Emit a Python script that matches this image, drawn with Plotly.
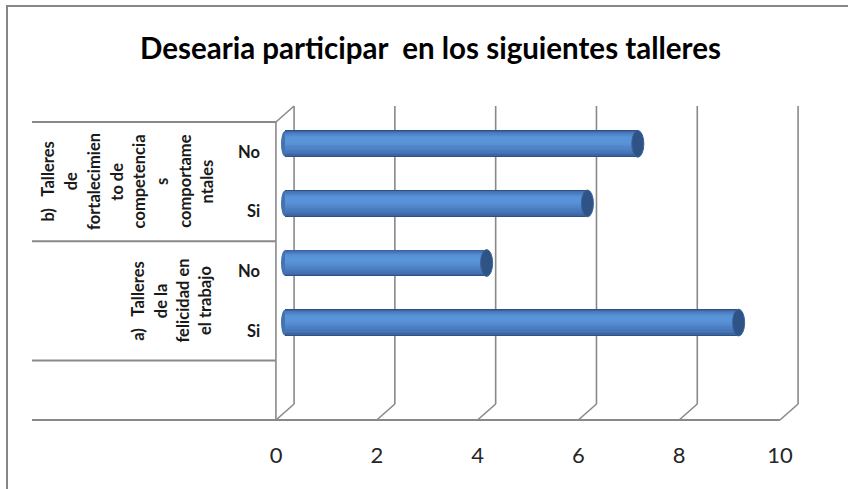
import plotly.graph_objects as go

# ---- data -------------------------------------------------------------
title_text = "Desearia participar\u00a0 en los siguientes talleres"

# category slots from bottom to top (slot 0 is left empty on the axis)
answer_labels = ["Si", "No", "Si", "No"]
answer_values = [9, 4, 6, 7]

# wrapped group labels (one list entry per rotated text line)
group_a_lines = ["a)\u00a0\u00a0\u00a0Talleres", "de la", "felicidad en", "el trabajo"]
group_b_lines = ["b)\u00a0\u00a0\u00a0Talleres", "de", "fortalecimien", "to de",
                 "competencia", "s", "comportame", "ntales"]

value_ticks = [0, 2, 4, 6, 8, 10]

# ---- geometry of the pseudo-3D frame -----------------------------------
W, H = 848, 489
PLOT_TOP, PLOT_BOTTOM = 60, 426
X_ZERO_PX, PX_PER_UNIT = 285.0, 50.4      # value axis at mid depth
Y_ZERO_PX, PX_PER_SLOT = 382.2, 59.6      # centre of slot 0
DX, DY = 0.18, 0.134                      # half depth offset (axis units)
N_SLOTS = 5
TABLE_LEFT_PX = 32

def px_to_x(px):
    return (px - X_ZERO_PX) / PX_PER_UNIT

def px_to_y(py):
    return (Y_ZERO_PX - py) / PX_PER_SLOT

def paper_x(px):
    return px / W

def paper_y(py):
    return (PLOT_BOTTOM - py) / (PLOT_BOTTOM - PLOT_TOP)

positions = list(range(1, len(answer_values) + 1))
slot_lo, slot_hi = -0.5, N_SLOTS - 0.5
grid_col = "#898989"
text_font = "Lato"

fig = go.Figure()

# cylinder bodies: stacked bands of decreasing width for the round shading
bands = [
    (0.45, 0.000, "#2f5283"),
    (0.42, 0.006, "#3b64a1"),
    (0.38, 0.012, "#4270b0"),
    (0.34, 0.020, "#4777b8"),
    (0.29, 0.030, "#4b7ec0"),
    (0.24, 0.040, "#4f85c8"),
    (0.19, 0.050, "#538bce"),
    (0.14, 0.058, "#5790d4"),
    (0.09, 0.064, "#5a94d8"),
]
for k, (w, shift, col) in enumerate(bands):
    fig.add_trace(go.Bar(
        y=positions, x=answer_values, orientation="h",
        width=w, offset=shift - w / 2,
        marker=dict(color=col, line=dict(width=0)),
        hoverinfo="skip" if k < len(bands) - 1 else "x",
        showlegend=False,
    ))

shapes = []
line_style = dict(color=grid_col, width=1.6)

# back wall gridlines and floor diagonals
for v in value_ticks:
    shapes.append(dict(type="line", xref="x", yref="y", layer="below",
                       x0=v + DX, x1=v + DX, y0=slot_lo + DY, y1=slot_hi + DY,
                       line=line_style))
    shapes.append(dict(type="line", xref="x", yref="y", layer="below",
                       x0=v - DX, x1=v + DX, y0=slot_lo - DY, y1=slot_lo + DY,
                       line=line_style))

# front floor edge, running under the category table
shapes.append(dict(type="line", xref="x", yref="y", layer="below",
                   x0=px_to_x(TABLE_LEFT_PX), x1=value_ticks[-1] - DX,
                   y0=slot_lo - DY, y1=slot_lo - DY, line=dict(color=grid_col, width=2)))
# side wall
shapes.append(dict(type="line", xref="x", yref="y", layer="below",
                   x0=-DX, x1=-DX, y0=slot_lo - DY, y1=slot_hi - DY, line=line_style))
shapes.append(dict(type="line", xref="x", yref="y", layer="below",
                   x0=-DX, x1=DX, y0=slot_hi - DY, y1=slot_hi + DY, line=line_style))
# category table separators
for b in [slot_hi, 2.5, 0.5]:
    shapes.append(dict(type="line", xref="x", yref="y", layer="below",
                       x0=px_to_x(TABLE_LEFT_PX), x1=-DX, y0=b - DY, y1=b - DY,
                       line=dict(color=grid_col, width=2)))

# rounded bar starts and dark end faces
for p, v in zip(positions, answer_values):
    shapes.append(dict(type="circle", xref="x", yref="y", layer="below",
                       x0=-0.08, x1=0.08, y0=p - 0.215, y1=p + 0.215,
                       fillcolor="#4474b0", line=dict(width=0)))
    shapes.append(dict(type="circle", xref="x", yref="y", layer="above",
                       x0=v - 0.12, x1=v + 0.12, y0=p - 0.225, y1=p + 0.225,
                       fillcolor="#2f5385", line=dict(color="#3a64a0", width=1)))

# chart border
shapes.append(dict(type="rect", xref="paper", yref="paper",
                   x0=paper_x(7), x1=paper_x(860), y0=paper_y(500), y1=paper_y(6),
                   line=dict(color="#868686", width=2), fillcolor="rgba(0,0,0,0)"))

annotations = []
# Si / No labels (front plane)
for p, lab in zip(positions, answer_labels):
    annotations.append(dict(xref="x", yref="y", x=px_to_x(262), y=p - DY,
                            text=f"<b>{lab}</b>", showarrow=False,
                            xanchor="right", yanchor="middle",
                            font=dict(family=text_font, size=16.5, color="#1a1a1a")))

# rotated group labels
def add_group(lines, first_px, step_px, centre_slot):
    for j, line in enumerate(lines):
        annotations.append(dict(xref="x", yref="y",
                                x=px_to_x(first_px + j * step_px), y=centre_slot - DY,
                                text=f"<b>{line}</b>", textangle=-90, showarrow=False,
                                xanchor="center", yanchor="middle",
                                font=dict(family=text_font, size=16.5, color="#1a1a1a")))

add_group(group_a_lines, 138, 22.4, 1.5)
add_group(group_b_lines, 48, 22.7, 3.5)

# title
annotations.append(dict(xref="paper", yref="paper", x=paper_x(430), y=paper_y(47),
                        text=f"<b>{title_text}</b>", showarrow=False,
                        xanchor="center", yanchor="middle",
                        font=dict(family=text_font, size=29.5, color="#000000")))

fig.update_layout(
    width=W, height=H,
    margin=dict(l=0, r=0, t=PLOT_TOP, b=H - PLOT_BOTTOM),
    paper_bgcolor="white", plot_bgcolor="white",
    barmode="overlay", bargap=0,
    shapes=shapes, annotations=annotations,
    showlegend=False,
    xaxis=dict(range=[px_to_x(0), px_to_x(W)], tickvals=value_ticks,
               showgrid=False, zeroline=False, showline=False, ticks="",
               ticklabelshift=-9, ticklabelstandoff=14,
               tickfont=dict(family=text_font, size=22, color="#262626"),
               fixedrange=True),
    yaxis=dict(range=[px_to_y(PLOT_BOTTOM), px_to_y(PLOT_TOP)],
               showgrid=False, zeroline=False, showline=False,
               showticklabels=False, ticks="", fixedrange=True),
)

fig.write_html("out.html")
